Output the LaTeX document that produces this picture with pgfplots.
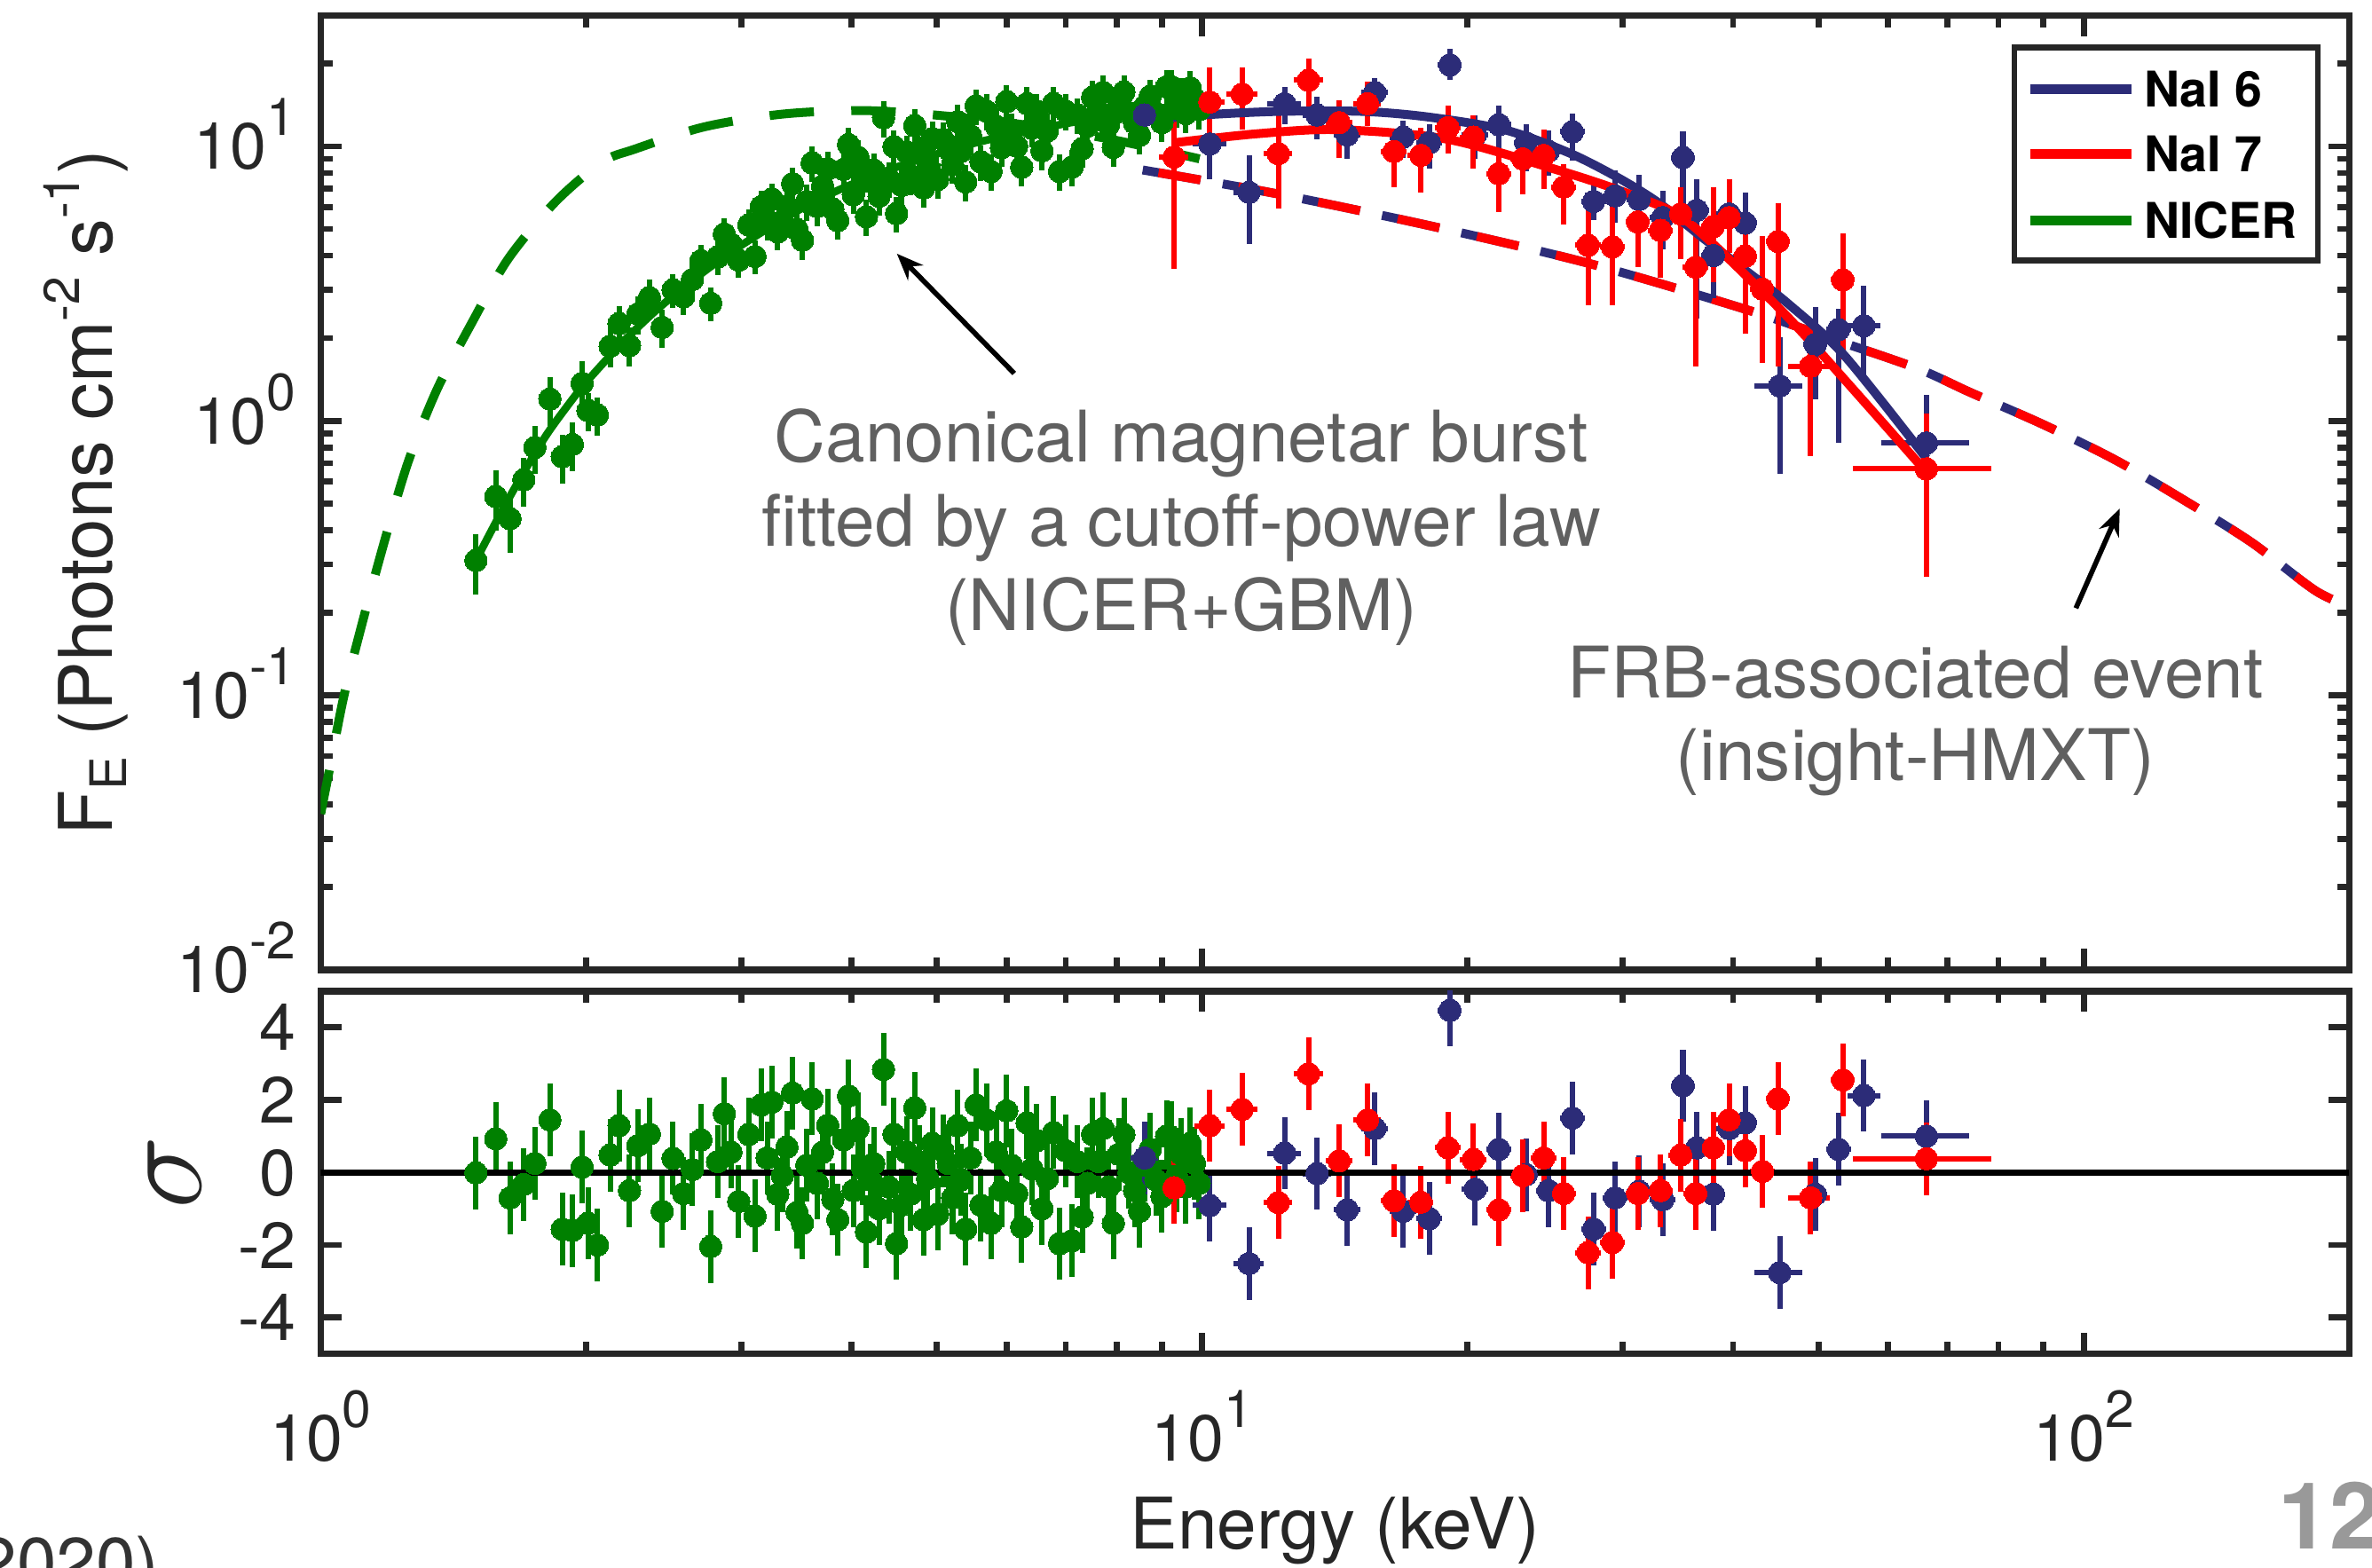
\documentclass[border=0pt]{standalone}
\usepackage{fontspec}
\setmainfont{TeX Gyre Heros}
\usepackage{pgfplots}
\pgfplotsset{compat=1.18}
\usepackage{pgfplotstable}
\usetikzlibrary{arrows.meta}

\definecolor{nblue}{RGB}{44,44,120}
\definecolor{nred}{RGB}{255,0,0}
\definecolor{ngreen}{RGB}{0,128,0}
\definecolor{axc}{RGB}{38,38,38}
\definecolor{anng}{RGB}{96,96,96}

\newcommand{\tp}[1]{10\raisebox{5.7pt}{\fontsize{8.8}{9}\selectfont #1}}
\newcommand{\lsup}[1]{\raisebox{5.5pt}{\fontsize{8.5}{9}\selectfont #1}}
\newcommand{\lsub}[1]{\raisebox{-2.5pt}{\fontsize{8.5}{9}\selectfont #1}}

% NaI 7 (red): E, x-err minus/plus, F, F-err minus/plus, residual
\pgfplotstableread{
E dxm dxp F dfm dfp s
9.29 0.35 0.35 9.14 5.57 4.96 -0.42
10.2 0.4 0.4 14.5 5.1 4.9 1.29
11.1 0.45 0.45 15.5 4.0 3.9 1.74
12.2 0.45 0.45 9.4 3.46 4.4 -0.83
13.2 0.5 0.5 17.4 3.8 3.5 2.72
14.3 0.5 0.5 12.2 3.1 2.5 0.32
15.4 0.55 0.55 14.3 2.4 2.9 1.45
16.5 0.55 0.55 9.57 2.47 1.93 -0.78
17.7 0.6 0.6 9.27 2.47 2.43 -0.82
19.0 0.65 0.65 11.7 2.3 2.4 0.68
20.3 0.7 0.7 10.8 2.5 2.2 0.36
21.7 0.7 0.7 7.95 2.2 1.45 -1.03
23.1 0.75 0.75 9.0 2.3 2.2 -0.09
24.4 0.8 0.8 9.27 2.27 2.23 0.40
25.7 0.85 0.85 7.1 1.9 1.5 -0.58
27.4 0.9 0.9 4.36 1.73 1.74 -2.21
29.2 0.95 0.95 4.3 1.67 1.8 -1.93
31.2 1.0 1.0 5.3 1.67 1.2 -0.58
33.1 1.1 1.1 4.94 1.63 1.36 -0.50
34.9 1.1 1.1 5.67 1.8 1.43 0.48
36.3 1.2 1.2 3.63 2.05 1.09 -0.58
38.0 1.2 1.2 5.1 1.9 2.0 0.68
39.6 1.3 1.3 5.5 1.4 2.1 1.45
41.3 1.3 1.3 3.98 1.9 1.77 0.60
43.2 1.4 1.4 3.02 1.39 1.7 0.03
45.0 1.4 1.4 4.5 2.92 1.7 2.03
49.0 2.8 2.5 1.58 0.835 0.78 -0.70
53.3 1.7 1.7 3.26 1.58 1.54 2.55
66.3 11.6 12.3 0.668 0.398 0.392 0.38
}\redtab

% NaI 6 (blue)
\pgfplotstableread{
E dxm dxp F dfm dfp s
8.6 0.3 0.3 13.0 2.5 2.5 0.40
10.2 0.45 0.45 10.2 2.6 2.6 -0.91
11.3 0.45 0.45 6.8 2.4 2.5 -2.51
12.4 0.55 0.55 14.3 2.3 2.1 0.53
13.5 0.5 0.5 13.0 2.4 2.2 -0.03
14.6 0.5 0.5 11.0 2.0 1.8 -1.03
15.7 0.55 0.55 15.7 2.3 2.0 1.21
16.9 0.6 0.6 10.8 1.7 1.6 -1.07
18.1 0.6 0.6 10.3 2.0 1.7 -1.27
19.1 0.6 0.6 19.8 2.4 2.8 4.47
20.4 0.7 0.7 11.0 2.0 2.0 -0.46
21.7 0.7 0.7 12.0 2.3 2.1 0.64
23.3 0.75 0.75 10.3 2.2 1.7 -0.06
24.7 0.8 0.8 9.6 1.8 1.8 -0.50
26.3 0.85 0.85 11.3 2.4 1.9 1.50
27.8 0.9 0.9 6.3 0.9 1.2 -1.56
29.4 0.95 0.95 6.6 1.35 1.6 -0.70
31.3 1.0 1.0 6.4 1.4 1.5 -0.52
33.3 1.1 1.1 5.5 1.3 1.4 -0.75
35.1 1.1 1.1 9.1 3.5 2.2 2.39
36.4 1.2 1.2 5.85 3.49 1.75 0.68
38.0 1.2 1.2 4.0 1.2 1.3 -0.60
39.6 1.3 1.3 5.67 1.57 1.53 1.21
41.3 1.3 1.3 5.25 1.84 1.55 1.37
45.2 2.9 2.7 1.34 0.70 0.68 -2.76
49.6 1.6 1.6 1.9 0.7 0.7 -0.60
52.7 1.7 1.7 2.15 1.32 0.4 0.64
56.3 2.4 2.5 2.22 0.84 0.89 2.12
66.3 7.4 7.8 0.83 0.42 0.41 1.00
}\bluetab

% NICER (green): E, F, residual, relative error
\pgfplotstableread{
E F s r
1.50 0.31 -0.01 0.25
1.58 0.53 0.93 0.25
1.64 0.44 -0.70 0.25
1.70 0.61 -0.33 0.20
1.75 0.80 0.25 0.20
1.82 1.20 1.45 0.20
1.88 0.74 -1.56 0.20
1.93 0.82 -1.60 0.20
1.98 1.37 0.15 0.20
2.01 1.09 -1.40 0.16
2.06 1.05 -2.00 0.16
2.13 1.87 0.48 0.16
2.18 2.26 1.29 0.16
2.24 1.88 -0.50 0.16
2.29 2.45 0.74 0.16
2.36 2.81 1.06 0.16
2.44 2.19 -1.07 0.16
2.51 3.00 0.39 0.14
2.58 2.83 -0.58 0.14
2.64 3.27 0.08 0.14
2.70 3.83 0.90 0.14
2.77 2.68 -2.04 0.14
2.82 3.95 0.30 0.14
2.87 4.79 1.62 0.14
2.92 4.41 0.56 0.14
2.98 3.85 -0.80 0.14
3.06 5.17 1.05 0.14
3.11 3.97 -1.20 0.14
3.16 6.03 1.86 0.14
3.21 5.27 0.40 0.14
3.25 6.43 1.94 0.14
3.30 4.88 -0.60 0.14
3.34 5.35 -0.09 0.14
3.38 6.04 0.70 0.14
3.43 7.31 2.19 0.14
3.47 4.98 -1.10 0.14
3.52 4.55 -1.40 0.15
3.56 6.30 0.20 0.15
3.61 8.70 2.03 0.15
3.66 6.03 -0.30 0.15
3.71 7.17 0.56 0.15
3.76 8.28 1.30 0.15
3.81 5.91 -0.74 0.15
3.86 5.37 -1.30 0.15
3.92 8.24 0.90 0.15
3.97 10.16 2.11 0.15
4.02 6.66 -0.50 0.15
4.07 9.12 1.21 0.15
4.12 7.67 0.10 0.15
4.16 5.54 -1.64 0.15
4.20 7.45 -0.20 0.15
4.24 8.19 0.25 0.15
4.30 6.58 -1.00 0.15
4.35 12.70 2.84 0.15
4.41 7.62 -0.40 0.15
4.47 9.97 1.05 0.15
4.50 5.69 -1.96 0.15
4.56 7.20 -0.90 0.15
4.62 9.53 0.56 0.15
4.67 7.82 -0.60 0.15
4.72 11.89 1.78 0.15
4.78 9.45 0.30 0.15
4.83 7.05 -1.30 0.15
4.88 8.88 -0.17 0.15
4.94 10.67 0.80 0.15
5.01 7.57 -1.15 0.15
5.08 10.60 0.60 0.15
5.15 10.09 0.25 0.15
5.21 8.57 -0.70 0.15
5.28 12.30 1.29 0.15
5.33 9.60 -0.20 0.15
5.39 7.42 -1.56 0.15
5.46 10.93 0.40 0.15
5.54 14.04 1.86 0.15
5.61 8.78 -0.90 0.15
5.69 13.44 1.45 0.15
5.76 8.10 -1.40 0.15
5.84 11.84 0.56 0.15
5.92 9.88 -0.50 0.15
6.00 14.55 1.70 0.15
6.08 11.45 0.20 0.15
6.16 10.01 -0.58 0.15
6.24 8.40 -1.50 0.15
6.33 14.31 1.37 0.15
6.41 11.65 0.10 0.15
6.49 13.44 0.88 0.15
6.58 9.63 -1.00 0.15
6.67 11.38 -0.17 0.15
6.78 14.32 1.10 0.15
6.89 8.10 -1.96 0.15
7.00 13.44 0.60 0.15
7.12 8.41 -1.88 0.15
7.22 13.00 0.30 0.15
7.31 9.81 -1.23 0.15
7.41 11.85 -0.30 0.15
7.51 15.10 1.05 0.15
7.62 13.41 0.30 0.15
7.72 15.73 1.21 0.15
7.83 11.99 -0.40 0.15
7.93 9.91 -1.40 0.15
8.04 14.28 0.50 0.15
8.15 15.77 1.05 0.15
8.26 13.26 0.00 0.15
8.38 12.18 -0.50 0.15
8.49 10.97 -1.07 0.15
8.61 14.02 0.20 0.15
8.73 15.22 0.64 0.15
8.86 13.21 -0.20 0.15
9.00 12.20 -0.66 0.15
9.11 16.47 1.00 0.15
9.23 16.48 0.97 0.15
9.35 13.76 -0.10 0.15
9.47 15.37 0.50 0.15
9.58 13.15 -0.40 0.15
9.69 16.33 0.80 0.15
9.80 14.93 0.25 0.15
9.92 13.59 -0.30 0.15
}\greentab

\pgfplotsset{
  every axis/.append style={
    scale only axis,
    axis line style={axc, line width=1.1pt},
    tick style={axc, line width=1pt},
    major tick length=3.5pt, minor tick length=2pt,
    tick align=inside, tick pos=both,
    tick label style={font=\fontsize{11}{13}\selectfont, text=axc, inner sep=0pt},
    yticklabel style={anchor=base east, xshift=-4pt, yshift=-3.9pt},
    xticklabel style={anchor=base, yshift=-18.1pt},
  },
}

\begin{document}
\begin{tikzpicture}

% ---------------- top panel ----------------
\begin{axis}[at={(0pt,0pt)}, anchor=south west,
  width=342.2pt, height=161pt,
  xmode=log, ymode=log, xmin=1, xmax=200, ymin=0.01, ymax=30,
  xtick={1,10,100},
  minor xtick={2,3,4,5,6,7,8,9,20,30,40,50,60,70,80,90,200},
  xticklabels={,,},
  ytick={0.01,0.1,1,10},
  yticklabels={\tp{-2},\tp{-1},\tp{0},\tp{1}},
  minor ytick={0.02,0.03,0.04,0.05,0.06,0.07,0.08,0.09,0.2,0.3,0.4,0.5,0.6,0.7,0.8,0.9,2,3,4,5,6,7,8,9,20,30},
  ylabel={F\lsub{E} (Photons cm\lsup{-2} s\lsup{-1})},
  every axis y label/.style={at={(axis description cs:-0.1029,0.5)}, rotate=90, anchor=base,
     font=\fontsize{12.5}{14}\selectfont, text=axc},
]
% canonical burst model (dashed green)
\addplot[ngreen, line width=1.5pt, dash pattern=on 7.5pt off 6.3pt, smooth] coordinates {
(1.0,0.037) (1.02,0.051) (1.063,0.100) (1.117,0.188) (1.183,0.37) (1.257,0.71)
(1.355,1.30) (1.488,2.31) (1.632,3.89) (1.845,6.26) (2.085,8.76) (2.27,9.76)
(2.72,11.76) (3.34,13.1) (4.13,13.5) (5.11,12.9) (6.5,11.8) (8.0,10.5) (9.93,9.0)};
% FRB-associated event model (dashed blue + red)
\addplot[nblue, line width=1.5pt, dash pattern=on 9.9pt off 3.8pt, smooth] coordinates {
(8.56,8.2) (12.2,6.7) (18.3,5.1) (27.5,3.74) (41.3,2.55) (52,1.98) (64.8,1.55)
(74.3,1.27) (89.9,0.97) (108.6,0.72) (129.8,0.515) (155.1,0.36) (183.7,0.239) (205,0.205)};
\addplot[nred, line width=1.5pt, dash pattern=on 7.2pt off 6.5pt, dash phase=11pt, smooth] coordinates {
(8.56,8.2) (12.2,6.7) (18.3,5.1) (27.5,3.74) (41.3,2.55) (52,1.98) (64.8,1.55)
(74.3,1.27) (89.9,0.97) (108.6,0.72) (129.8,0.515) (155.1,0.36) (183.7,0.239) (205,0.205)};
% NICER data
\addplot[only marks, mark=*, mark size=1.9pt, color=ngreen, mark options={fill=ngreen, draw=ngreen, line width=0pt},
  error bars/.cd, y dir=both, y explicit relative, error bar style={line width=0.9pt, ngreen}, error mark=none]
  table[x=E, y=F, y error=r]{\greentab};
% NICER model
\addplot[ngreen, line width=1.3pt, smooth] coordinates {
(1.5,0.31) (1.6,0.46) (1.7,0.65) (1.8,0.88) (1.9,1.12) (2.0,1.38) (2.2,1.93)
(2.4,2.52) (2.6,3.12) (2.8,3.74) (3.0,4.36) (3.4,5.6) (3.8,6.75) (4.25,7.85)
(4.75,8.9) (5.5,10.25) (6.5,11.55) (7.5,12.6) (8.5,13.45) (10.0,14.4)};
% NaI data
\addplot[only marks, mark=*, mark size=1.9pt, color=nblue, mark options={fill=nblue, draw=nblue, line width=0pt},
  error bars/.cd, x dir=both, x explicit, y dir=both, y explicit, error bar style={line width=0.9pt, nblue}, error mark=none]
  table[x=E, y=F, x error minus=dxm, x error plus=dxp, y error minus=dfm, y error plus=dfp]{\bluetab};
\addplot[only marks, mark=*, mark size=1.9pt, color=nred, mark options={fill=nred, draw=nred, line width=0pt},
  error bars/.cd, x dir=both, x explicit, y dir=both, y explicit, error bar style={line width=0.9pt, nred}, error mark=none]
  table[x=E, y=F, x error minus=dxm, x error plus=dxp, y error minus=dfm, y error plus=dfp]{\redtab};
% NaI models
\addplot[nblue, line width=1.5pt, smooth] coordinates {
(8.56,12.4) (10,13.0) (12.2,13.4) (15.2,13.4) (18,12.8) (22.0,11.5) (26,9.5)
(29.6,7.7) (33,6.2) (37.0,4.63) (41,3.6) (46.2,2.67) (53.5,1.73) (66.3,0.73)};
\addplot[nred, line width=1.5pt, smooth] coordinates {
(9.29,10.3) (11.5,11.1) (14.2,11.5) (19.0,10.6) (25.6,8.1) (30.5,6.7) (35.3,5.4)
(42.9,3.02) (49.3,1.9) (66.3,0.65)};
\end{axis}

% ---------------- bottom panel ----------------
\begin{axis}[at={(0pt,-3.6pt)}, anchor=north west,
  width=342.2pt, height=61.2pt,
  xmode=log, xmin=1, xmax=200, ymin=-5, ymax=5,
  xtick={1,10,100},
  minor xtick={2,3,4,5,6,7,8,9,20,30,40,50,60,70,80,90,200},
  xticklabels={\tp{0},\tp{1},\tp{2}},
  ytick={-4,-2,0,2,4}, yticklabels={-4,-2,0,2,4},
  xlabel={Energy (keV)},
  every axis x label/.style={at={(axis description cs:0.5,0)}, anchor=base, yshift=-32.9pt,
     font=\fontsize{12}{14}\selectfont, text=axc},
  ylabel={\fontsize{21}{24}\selectfont$\sigma$},
  every axis y label/.style={at={(axis description cs:-0.059,0.5)}, rotate=90, anchor=base, text=axc},
]
\addplot[only marks, mark=*, mark size=1.9pt, color=ngreen, mark options={fill=ngreen, draw=ngreen, line width=0pt},
  error bars/.cd, y dir=both, y fixed=1, error bar style={line width=0.9pt, ngreen}, error mark=none]
  table[x=E, y=s]{\greentab};
\addplot[only marks, mark=*, mark size=1.9pt, color=nblue, mark options={fill=nblue, draw=nblue, line width=0pt},
  error bars/.cd, x dir=both, x explicit, y dir=both, y fixed=1, error bar style={line width=0.9pt, nblue}, error mark=none]
  table[x=E, y=s, x error minus=dxm, x error plus=dxp]{\bluetab};
\addplot[only marks, mark=*, mark size=1.9pt, color=nred, mark options={fill=nred, draw=nred, line width=0pt},
  error bars/.cd, x dir=both, x explicit, y dir=both, y fixed=1, error bar style={line width=0.9pt, nred}, error mark=none]
  table[x=E, y=s, x error minus=dxm, x error plus=dxp]{\redtab};
\addplot[black, line width=1pt] coordinates {(1,0) (200,0)};
\end{axis}

% ---------------- legend ----------------
\draw[axc, line width=1pt, fill=white] (285.7pt,119.7pt) rectangle (336.9pt,155.6pt);
\draw[nblue, line width=1.6pt] (288.4pt,148.6pt) -- (305.5pt,148.6pt);
\draw[nred, line width=1.6pt] (288.4pt,137.6pt) -- (305.5pt,137.6pt);
\draw[ngreen, line width=1.6pt] (288.4pt,126.4pt) -- (305.5pt,126.4pt);
\begin{scope}[every node/.style={anchor=base west, inner sep=0pt, font=\bfseries\fontsize{8.3}{10}\selectfont}]
\node at (307.4pt,145.6pt) {NaI 6};
\node at (307.4pt,134.6pt) {NaI 7};
\node at (307.4pt,123.4pt) {NICER};
\end{scope}

% ---------------- annotations ----------------
\begin{scope}[every node/.style={anchor=base, inner sep=0pt, font=\fontsize{12}{14}\selectfont, text=anng}]
\node at (145.2pt,85.7pt) {Canonical magnetar burst};
\node at (145.2pt,71.5pt) {fitted by a cutoff-power law};
\node at (145.2pt,57.3pt) {(NICER+GBM)};
\node at (269pt,45.9pt) {FRB-associated event};
\node at (269pt,31.9pt) {(insight-HMXT)};
\end{scope}
\draw[-{Stealth[length=4.5pt,width=3.6pt]}, line width=0.85pt, black] (117.0pt,100.6pt) -- (97.2pt,120.8pt);
\draw[-{Stealth[length=4.5pt,width=3.6pt]}, line width=0.85pt, black] (296.1pt,61.0pt) -- (303.5pt,77.8pt);

% slide remnants at the edges
\node[anchor=base west, inner sep=0pt, font=\bfseries\fontsize{15.6}{18}\selectfont, text={rgb,255:red,153;green,153;blue,153}] at (330pt,-97.7pt) {12};
\node[anchor=base east, inner sep=0pt, font=\fontsize{12}{14}\selectfont, text={rgb,255:red,51;green,51;blue,51}] at (-27pt,-104.3pt) {(2020)};

\pgfresetboundingbox
\path[use as bounding box] (-54.1pt,-100.8pt) rectangle (346.05pt,163.6pt);
\end{tikzpicture}
\end{document}
